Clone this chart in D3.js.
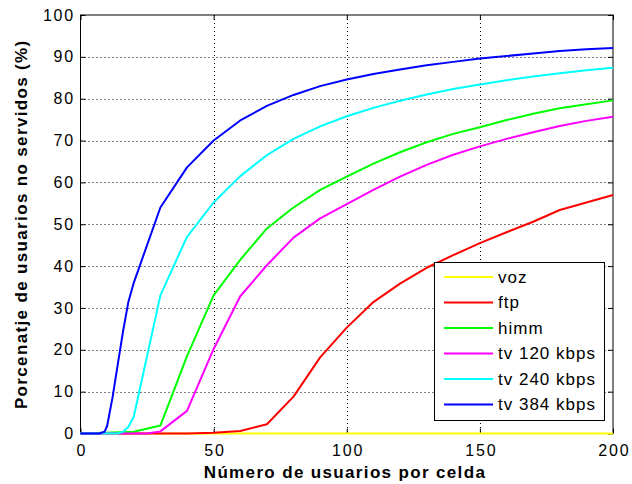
<!DOCTYPE html>
<html>
<head>
<meta charset="utf-8">
<script src="https://cdn.jsdelivr.net/npm/d3@7"></script>
<style>
  body { margin: 0; background: #fff; }
  svg { display: block; }
  text { font-family: "Liberation Sans", Arial, sans-serif; }
</style>
</head>
<body>
<svg id="chart" width="632" height="484"></svg>
<script>
// Users per cell (x) for each curve, and unserved percentage (y)
const seriesNames = ["voz", "ftp", "himm", "tv 120 kbps", "tv 240 kbps", "tv 384 kbps"];
const seriesColors = ["#ffff00", "#ff0000", "#00ff00", "#ff00ff", "#00ffff", "#0000ff"];

const vozX = [0, 50, 100, 150, 200];
const vozY = [0, 0, 0, 0, 0];

const ftpX = [0, 40, 50, 60, 70, 80, 90, 100, 110, 120, 130, 140, 150, 160, 170, 180, 190, 200];
const ftpY = [0, 0, 0.2, 0.6, 2.2, 8.8, 18.2, 25.3, 31.4, 35.8, 39.6, 42.6, 45.5, 48.1, 50.6, 53.4, 55.2, 57.0];

const himmX = [0, 20, 30, 40, 50, 60, 70, 80, 90, 100, 110, 120, 130, 140, 150, 160, 170, 180, 190, 200];
const himmY = [0, 0.4, 1.9, 18.5, 33.0, 41.5, 49.0, 54.0, 58.2, 61.4, 64.5, 67.2, 69.6, 71.6, 73.2, 74.9, 76.4, 77.7, 78.7, 79.6];

const tv120X = [0, 25, 30, 40, 50, 60, 70, 80, 90, 100, 110, 120, 130, 140, 150, 160, 170, 180, 190, 200];
const tv120Y = [0, 0, 0.5, 5.4, 20.2, 32.8, 40.2, 46.8, 51.4, 54.8, 58.2, 61.4, 64.2, 66.6, 68.6, 70.4, 72.0, 73.5, 74.7, 75.7];

const tv240X = [0, 14, 16, 18, 20, 30, 40, 50, 60, 70, 80, 90, 100, 110, 120, 130, 140, 150, 160, 170, 180, 190, 200];
const tv240Y = [0, 0, 0.4, 1.6, 4.0, 33.0, 47.0, 55.2, 61.5, 66.5, 70.4, 73.4, 75.8, 77.8, 79.5, 81.0, 82.3, 83.4, 84.4, 85.3, 86.1, 86.8, 87.4];

const tv384X = [0, 7, 9, 10, 12, 14, 16, 18, 20, 30, 40, 50, 60, 70, 80, 90, 100, 110, 120, 130, 140, 150, 160, 170, 180, 190, 200];
const tv384Y = [0, 0, 0.4, 1.8, 8.5, 16.5, 24.5, 31.5, 36.0, 54.0, 63.6, 70.0, 74.8, 78.3, 80.9, 83.0, 84.6, 85.9, 87.0, 88.0, 88.8, 89.6, 90.2, 90.8, 91.4, 91.8, 92.1];

const xTicks = [0, 50, 100, 150, 200];
const yTicks = [0, 10, 20, 30, 40, 50, 60, 70, 80, 90, 100];
const xLabel = "Número de usuarios por celda";
const yLabel = "Porcenatje de usuarios no servidos (%)";

const allX = [vozX, ftpX, himmX, tv120X, tv240X, tv384X];
const allY = [vozY, ftpY, himmY, tv120Y, tv240Y, tv384Y];
const series = seriesNames.map((name, i) => ({
  name, color: seriesColors[i],
  points: allX[i].map((x, j) => [x, allY[i][j]])
}));

const svg = d3.select("#chart");
const margin = { left: 80.5, top: 15, right: 613, bottom: 433.5 };

const x = d3.scaleLinear().domain([0, 200]).range([margin.left, margin.right]);
const y = d3.scaleLinear().domain([0, 100]).range([margin.bottom, margin.top]);

// Dotted grid
const grid = svg.append("g").attr("stroke", "#000").attr("stroke-width", 1).attr("stroke-dasharray", "1,3");
grid.selectAll("line.gx").data(xTicks.slice(1, -1)).join("line")
  .attr("x1", d => Math.round(x(d)) + 0.5).attr("x2", d => Math.round(x(d)) + 0.5)
  .attr("y1", margin.top).attr("y2", margin.bottom);
grid.selectAll("line.gy").data(yTicks.slice(1, -1)).join("line")
  .attr("y1", d => Math.round(y(d)) + 0.5).attr("y2", d => Math.round(y(d)) + 0.5)
  .attr("x1", margin.left).attr("x2", margin.right);

// Axes with inward ticks on all four sides
const tickLen = 5;
const axB = svg.append("g").attr("transform", `translate(0,${margin.bottom})`)
  .call(d3.axisBottom(x).tickValues(xTicks).tickSize(-tickLen).tickPadding(10));
const axT = svg.append("g").attr("transform", `translate(0,${margin.top})`)
  .call(d3.axisTop(x).tickValues(xTicks).tickSize(-tickLen).tickFormat(""));
const axL = svg.append("g").attr("transform", `translate(${margin.left},0)`)
  .call(d3.axisLeft(y).tickValues(yTicks).tickSize(-tickLen).tickPadding(5));
const axR = svg.append("g").attr("transform", `translate(${margin.right},0)`)
  .call(d3.axisRight(y).tickValues(yTicks).tickSize(-tickLen).tickFormat(""));
[axB, axT, axL, axR].forEach(a => {
  a.select(".domain").remove();
  a.selectAll("line").attr("stroke", "#000");
  a.selectAll("text").attr("font-size", 16).attr("fill", "#000")
    .attr("letter-spacing", "1.8px")
    .attr("font-family", "'Liberation Sans', Arial, sans-serif");
});
axB.selectAll("text").attr("y", 11).attr("dy", "0.71em").attr("dx", "0.9");
axL.selectAll("text").attr("x", -5.5);

// Frame
svg.append("rect")
  .attr("x", margin.left).attr("y", margin.top)
  .attr("width", margin.right - margin.left).attr("height", margin.bottom - margin.top)
  .attr("fill", "none").attr("stroke", "#000").attr("stroke-width", 1);

// Curves
const line = d3.line().x(d => x(d[0])).y(d => y(d[1]));
svg.append("g").selectAll("path").data(series).join("path")
  .attr("d", d => line(d.points))
  .attr("fill", "none")
  .attr("stroke", d => d.color)
  .attr("stroke-width", 2)
  .attr("stroke-linejoin", "round");

// Axis titles
svg.append("text")
  .attr("x", 345).attr("y", 477.5)
  .attr("text-anchor", "middle").attr("font-size", 17).attr("font-weight", "bold")
  .attr("letter-spacing", "1.35px")
  .text(xLabel);
svg.append("text")
  .attr("transform", `translate(27,${(margin.top + margin.bottom) / 2}) rotate(-90)`)
  .attr("text-anchor", "middle").attr("font-size", 17).attr("font-weight", "bold")
  .attr("letter-spacing", "1.35px")
  .text(yLabel);

// Legend
const lg = svg.append("g");
lg.append("rect").attr("x", 434.5).attr("y", 262.5).attr("width", 170).attr("height", 158)
  .attr("fill", "#fff").attr("stroke", "#000").attr("stroke-width", 1);
const items = lg.selectAll("g.item").data(series).join("g")
  .attr("transform", (d, i) => `translate(0,${277 + i * 25.5})`);
items.append("line").attr("x1", 444).attr("x2", 493).attr("y1", 0).attr("y2", 0)
  .attr("stroke", d => d.color).attr("stroke-width", 2);
items.append("text").attr("x", 498).attr("y", 0).attr("dy", "0.35em")
  .attr("font-size", 17).attr("letter-spacing", "1px").text(d => d.name);
</script>
</body>
</html>
